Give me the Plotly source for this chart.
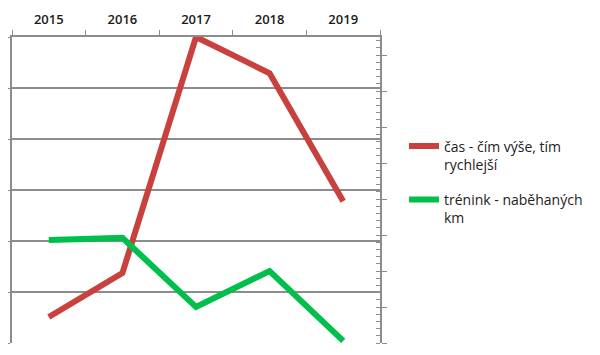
import plotly.graph_objects as go

years = ["2015", "2016", "2017", "2018", "2019"]
cas_values = [0.51, 1.37, 6.0, 5.29, 2.78]
trenink_values = [2.86, 2.92, 1.0, 2.0, 0.06]
cas_name = "čas - čím výše, tím<br>rychlejší"
trenink_name = "trénink - naběhaných<br>km"

grid_col = "#8c8c8c"
axis_col = "#8c8c8c"

fig = go.Figure()
fig.add_trace(go.Scatter(x=years, y=cas_values, name=cas_name, mode="lines", legendgroup="a",
                         line=dict(color="#C9413F", width=6), yaxis="y"))
fig.add_trace(go.Scatter(x=years, y=trenink_values, name=trenink_name, mode="lines", legendgroup="b",
                         line=dict(color="#00BF4A", width=6), yaxis="y2"))

fig.update_layout(
    width=600, height=355,
    margin=dict(l=4, r=228, t=29, b=20, autoexpand=False),
    paper_bgcolor="white", plot_bgcolor="white",
    font=dict(family="Open Sans", size=14, color="#222"),
    xaxis=dict(type="category", side="top", range=[-0.5, 4.5], automargin=False,
               showgrid=False, showline=True, linecolor=axis_col, linewidth=2,
               ticks="outside", tickson="boundaries", ticklen=5, tickcolor=axis_col,
               ticklabelstandoff=6,
               tickfont=dict(family="Open Sans", size=13, color="#1a1a1a", weight=600),
               zeroline=False),
    yaxis=dict(range=[0, 6], dtick=1, showticklabels=False, showgrid=True, automargin=False,
               gridcolor=grid_col, gridwidth=1.5, showline=True, linecolor=axis_col,
               linewidth=2, ticks="outside", ticklen=6, tickcolor=axis_col, zeroline=False),
    yaxis2=dict(range=[0, 8.5], dtick=1, overlaying="y", side="right", anchor="x",
                automargin=False,
                showticklabels=False, showgrid=False, showline=True, linecolor=axis_col,
                linewidth=2, ticks="outside", ticklen=5, tickcolor=axis_col, zeroline=False,
                minor=dict(dtick=0.2, ticks="inside", ticklen=4, tickcolor=axis_col)),
    legend=dict(xref="container", yref="container", x=0.66, y=0.655,
                xanchor="left", yanchor="top", valign="top",
                font=dict(family="Open Sans", size=14, color="#222"),
                tracegroupgap=14, itemwidth=30, bgcolor="rgba(0,0,0,0)"),
    showlegend=True,
)

fig.write_html("out.html")
